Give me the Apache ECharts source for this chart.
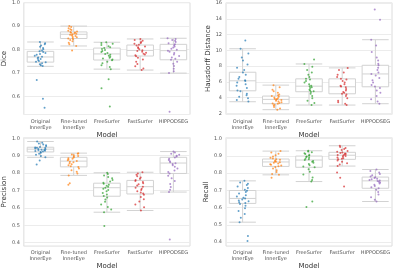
<!DOCTYPE html>
<html>
<head>
<meta charset="utf-8">
<script src="https://cdn.jsdelivr.net/npm/echarts@6/dist/echarts.min.js"></script>
<style>
  html, body { margin: 0; padding: 0; background: #fff; }
  #chart { width: 400px; height: 271px; }
</style>
</head>
<body>
<div id="chart"></div>
<script>
const models = ['Original\nInnerEye', 'Fine-tuned\nInnerEye', 'FreeSurfer', 'FastSurfer', 'HIPPODSEG'];
const colors = ['#1f77b4', '#ff7f0e', '#2ca02c', '#d62728', '#9467bd'];

// boxes: [low whisker, q1, median, q3, high whisker]
const diceBox = [
    [0.728, 0.746, 0.768, 0.792, 0.832],
    [0.815, 0.847, 0.865, 0.875, 0.900],
    [0.716, 0.755, 0.781, 0.806, 0.831],
    [0.712, 0.772, 0.796, 0.819, 0.845],
    [0.699, 0.756, 0.795, 0.822, 0.848]
];
const dicePts = [
    [0.832, 0.827, 0.822, 0.817, 0.812, 0.806, 0.801, 0.796, 0.792, 0.789, 0.785, 0.781, 0.777, 0.773, 0.769, 0.766, 0.762, 0.759, 0.755, 0.751, 0.748, 0.745, 0.741, 0.737, 0.733, 0.729, 0.670, 0.589, 0.551],
    [0.900, 0.896, 0.891, 0.887, 0.883, 0.880, 0.877, 0.875, 0.873, 0.871, 0.869, 0.867, 0.865, 0.863, 0.861, 0.858, 0.855, 0.852, 0.849, 0.847, 0.844, 0.840, 0.835, 0.829, 0.822, 0.815, 0.796],
    [0.831, 0.828, 0.824, 0.819, 0.814, 0.810, 0.806, 0.802, 0.798, 0.793, 0.789, 0.785, 0.781, 0.777, 0.773, 0.769, 0.765, 0.761, 0.757, 0.754, 0.748, 0.741, 0.733, 0.725, 0.716, 0.673, 0.634, 0.556],
    [0.845, 0.841, 0.837, 0.832, 0.828, 0.824, 0.820, 0.817, 0.813, 0.809, 0.805, 0.801, 0.797, 0.794, 0.790, 0.786, 0.782, 0.778, 0.775, 0.771, 0.765, 0.757, 0.748, 0.738, 0.728, 0.719, 0.712],
    [0.848, 0.845, 0.841, 0.837, 0.832, 0.827, 0.822, 0.818, 0.813, 0.808, 0.803, 0.799, 0.795, 0.790, 0.785, 0.779, 0.772, 0.766, 0.760, 0.756, 0.748, 0.739, 0.729, 0.718, 0.707, 0.699, 0.534]
];

const hdBox = [
    [3.47, 4.86, 6.13, 7.22, 10.2],
    [2.46, 3.22, 3.77, 4.19, 5.58],
    [3.05, 4.74, 5.45, 6.38, 8.27],
    [3.05, 4.48, 5.37, 6.38, 7.77],
    [3.22, 5.37, 7.00, 8.10, 11.35]
];
const hdPts = [
    [11.26, 10.2, 9.6, 9.1, 8.7, 8.2, 7.8, 7.5, 7.2, 6.9, 6.6, 6.4, 6.2, 6.1, 5.9, 5.7, 5.5, 5.2, 4.9, 4.8, 4.5, 4.3, 4.1, 3.9, 3.7, 3.5],
    [5.58, 5.3, 5.0, 4.8, 4.6, 4.4, 4.3, 4.2, 4.1, 4.0, 3.9, 3.85, 3.8, 3.75, 3.7, 3.6, 3.5, 3.4, 3.3, 3.25, 3.2, 3.1, 3.0, 2.8, 2.6, 2.46],
    [8.85, 8.27, 7.9, 7.5, 7.2, 6.9, 6.6, 6.4, 6.3, 6.1, 5.9, 5.7, 5.5, 5.45, 5.3, 5.2, 5.0, 4.9, 4.8, 4.7, 4.5, 4.2, 3.9, 3.6, 3.3, 3.05],
    [7.77, 7.5, 7.2, 6.9, 6.6, 6.4, 6.3, 6.1, 5.9, 5.7, 5.5, 5.4, 5.3, 5.1, 4.9, 4.7, 4.6, 4.5, 4.4, 4.2, 3.9, 3.6, 3.4, 3.2, 3.05],
    [15.2, 13.87, 11.35, 10.6, 9.8, 9.1, 8.7, 8.3, 8.1, 7.8, 7.5, 7.2, 7.0, 6.8, 6.5, 6.2, 5.9, 5.6, 5.4, 5.2, 4.9, 4.6, 4.2, 3.8, 3.5, 3.22]
];

const precBox = [
    [0.891, 0.922, 0.938, 0.949, 0.982],
    [0.787, 0.836, 0.869, 0.891, 0.915],
    [0.575, 0.667, 0.716, 0.742, 0.802],
    [0.585, 0.680, 0.722, 0.758, 0.805],
    [0.691, 0.798, 0.858, 0.891, 0.924]
];
const precPts = [
    [0.982, 0.975, 0.970, 0.965, 0.960, 0.955, 0.951, 0.948, 0.946, 0.944, 0.941, 0.939, 0.937, 0.935, 0.933, 0.931, 0.929, 0.927, 0.924, 0.921, 0.917, 0.912, 0.906, 0.899, 0.891, 0.873, 0.849],
    [0.915, 0.911, 0.907, 0.903, 0.898, 0.894, 0.890, 0.886, 0.882, 0.878, 0.874, 0.870, 0.866, 0.862, 0.857, 0.851, 0.845, 0.840, 0.835, 0.826, 0.817, 0.808, 0.798, 0.787, 0.742, 0.733],
    [0.802, 0.795, 0.786, 0.778, 0.770, 0.761, 0.752, 0.745, 0.739, 0.733, 0.727, 0.721, 0.716, 0.710, 0.703, 0.695, 0.686, 0.677, 0.668, 0.660, 0.648, 0.635, 0.620, 0.605, 0.590, 0.575, 0.496],
    [0.805, 0.798, 0.790, 0.782, 0.775, 0.768, 0.761, 0.755, 0.749, 0.742, 0.736, 0.729, 0.722, 0.716, 0.710, 0.703, 0.696, 0.689, 0.682, 0.675, 0.663, 0.650, 0.636, 0.620, 0.603, 0.585],
    [0.924, 0.918, 0.912, 0.906, 0.900, 0.895, 0.890, 0.883, 0.876, 0.869, 0.862, 0.857, 0.852, 0.845, 0.836, 0.826, 0.815, 0.806, 0.798, 0.785, 0.770, 0.755, 0.738, 0.720, 0.705, 0.691, 0.418]
];

const recBox = [
    [0.515, 0.624, 0.653, 0.699, 0.755],
    [0.790, 0.839, 0.865, 0.882, 0.928],
    [0.751, 0.834, 0.876, 0.899, 0.930],
    [0.841, 0.880, 0.904, 0.921, 0.959],
    [0.635, 0.712, 0.755, 0.777, 0.821]
];
const recPts = [
    [0.755, 0.745, 0.738, 0.731, 0.722, 0.713, 0.704, 0.698, 0.690, 0.681, 0.672, 0.664, 0.657, 0.652, 0.647, 0.641, 0.636, 0.631, 0.626, 0.621, 0.610, 0.596, 0.580, 0.562, 0.540, 0.515, 0.434, 0.406],
    [0.928, 0.920, 0.912, 0.904, 0.897, 0.890, 0.885, 0.881, 0.877, 0.873, 0.869, 0.866, 0.863, 0.860, 0.856, 0.852, 0.848, 0.844, 0.840, 0.835, 0.827, 0.817, 0.806, 0.795, 0.790, 0.773],
    [0.930, 0.926, 0.921, 0.916, 0.911, 0.906, 0.901, 0.897, 0.893, 0.889, 0.884, 0.880, 0.876, 0.871, 0.866, 0.860, 0.853, 0.846, 0.839, 0.834, 0.822, 0.808, 0.792, 0.775, 0.760, 0.751, 0.635, 0.603],
    [0.959, 0.952, 0.946, 0.940, 0.934, 0.929, 0.924, 0.920, 0.917, 0.914, 0.911, 0.908, 0.905, 0.902, 0.899, 0.895, 0.891, 0.887, 0.883, 0.880, 0.874, 0.866, 0.858, 0.850, 0.841, 0.803, 0.773, 0.723],
    [0.821, 0.812, 0.803, 0.795, 0.788, 0.781, 0.776, 0.772, 0.768, 0.764, 0.760, 0.757, 0.754, 0.750, 0.745, 0.739, 0.732, 0.725, 0.718, 0.712, 0.703, 0.690, 0.676, 0.660, 0.645, 0.635]
];

const FONT = 'DejaVu Sans';

const panels = [
    { name: 'Dice', box: diceBox, pts: dicePts, min: 0.522, max: 1.0, step: 0.1, digits: 1, gap: 12 },
    { name: 'Hausdorff Distance', box: hdBox, pts: hdPts, min: 1.85, max: 16.05, step: 2, digits: 0, gap: 12 },
    { name: 'Precision', box: precBox, pts: precPts, min: 0.38, max: 1.005, step: 0.1, digits: 1, gap: 11 },
    { name: 'Recall', box: recBox, pts: recPts, min: 0.376, max: 1.007, step: 0.1, digits: 1, gap: 12 }
];

const grids = [
    { left: 16.5, top: 2.7, width: 173.5, height: 111.8 },
    { left: 226, top: 2.7, width: 166, height: 111.8 },
    { left: 16.5, top: 137.5, width: 173.5, height: 113.5 },
    { left: 226, top: 137.5, width: 166, height: 113.5 }
];

const xAxes = [];
const yAxes = [];
const series = [];

panels.forEach((p, i) => {
    xAxes.push({
        type: 'category',
        gridIndex: i,
        data: models,
        jitter: 12,
        jitterOverlap: true,
        name: 'Model',
        nameLocation: 'middle',
        nameGap: 16,
        nameTextStyle: { fontFamily: FONT, fontSize: 7, color: '#333' },
        axisLine: { show: false },
        axisTick: { show: false },
        splitLine: { show: false },
        axisLabel: { interval: 0, fontFamily: FONT, fontSize: 5, color: '#555', margin: 4, lineHeight: 6 }
    });
    yAxes.push({
        type: 'value',
        gridIndex: i,
        min: p.min,
        max: p.max,
        splitNumber: 6,
        name: p.name,
        nameLocation: 'middle',
        nameRotate: 90,
        nameGap: p.gap,
        nameTextStyle: { fontFamily: FONT, fontSize: 7, color: '#333' },
        axisLine: { show: false },
        axisTick: { show: false },
        splitLine: { show: true, lineStyle: { color: '#ececec', width: 1 } },
        axisLabel: {
            fontFamily: FONT,
            fontSize: 5,
            color: '#555',
            margin: 4,
            formatter: (v) => {
                const r = v / p.step;
                return Math.abs(r - Math.round(r)) < 1e-6 ? v.toFixed(p.digits) : '';
            }
        }
    });
    series.push({
        type: 'boxplot',
        xAxisIndex: i,
        yAxisIndex: i,
        data: p.box,
        boxWidth: ['80%', '80%'],
        itemStyle: { color: '#fff', borderColor: '#d2d2d2', borderWidth: 1 },
        emphasis: { disabled: true },
        z: 2
    });
    p.pts.forEach((vals, g) => {
        series.push({
            type: 'scatter',
            xAxisIndex: i,
            yAxisIndex: i,
            data: vals.map((v) => [g, v]),
            symbolSize: 2,
            itemStyle: { color: colors[g], opacity: 0.7 },
            emphasis: { disabled: true },
            z: 3
        });
    });
});

const chart = echarts.init(document.getElementById('chart'), null, { renderer: 'canvas' });
chart.setOption({
    animation: false,
    backgroundColor: '#fff',
    grid: grids.map((g) => Object.assign({ show: true, borderColor: '#dcdcdc', borderWidth: 1, backgroundColor: 'transparent' }, g)),
    xAxis: xAxes,
    yAxis: yAxes,
    series: series
});
</script>
</body>
</html>
